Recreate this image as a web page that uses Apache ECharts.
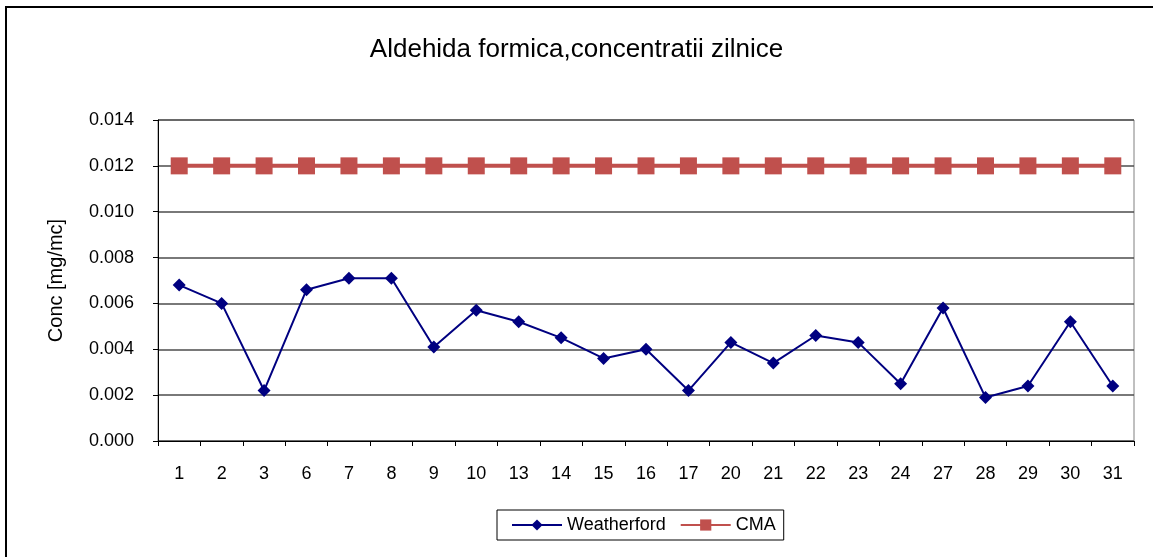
<!DOCTYPE html>
<html>
<head>
<meta charset="utf-8">
<script src="https://cdn.jsdelivr.net/npm/echarts@6/dist/echarts.min.js"></script>
<style>
  html, body { margin: 0; padding: 0; background: #fff; }
  #chart { width: 1153px; height: 557px; }
</style>
</head>
<body>
<div id="chart"></div>
<script>
const days = ['1', '2', '3', '6', '7', '8', '9', '10', '13', '14', '15', '16', '17', '20', '21', '22', '23', '24', '27', '28', '29', '30', '31']
const weatherford = [0.0068, 0.0060, 0.0022, 0.0066, 0.0071, 0.0071, 0.0041, 0.0057, 0.0052, 0.0045, 0.0036, 0.0040, 0.0022, 0.0043, 0.0034, 0.0046, 0.0043, 0.0025, 0.0058, 0.0019, 0.0024, 0.0052, 0.0024]
const cma = days.map(() => 0.012)

const chart = echarts.init(document.getElementById('chart'))
const font = 'Liberation Sans, Arial, sans-serif'

chart.setOption({
  animation: false,
  textStyle: { fontFamily: font },
  title: {
    text: 'Aldehida formica,concentratii zilnice',
    left: 'center', top: 32,
    textStyle: { fontFamily: font, fontSize: 26, fontWeight: 'normal', color: '#000' },
  },
  graphic: [
    { type: 'rect', shape: { x: 6, y: 7, width: 1160, height: 560 }, style: { fill: 'none', stroke: '#000', lineWidth: 2 } },
  ],
  legend: {
    left: 497, top: 510,
    borderColor: '#000', borderWidth: 1,
    padding: [6, 8, 6, 14],
    itemWidth: 50, itemHeight: 14, itemGap: 14,
    textStyle: { fontFamily: font, fontSize: 18, color: '#000' },
    data: ['Weatherford', 'CMA'],
  },
  grid: { left: 158, right: 19, top: 120, bottom: 116, show: true, borderColor: '#808080', borderWidth: 1 },
  xAxis: {
    type: 'category', data: days, boundaryGap: true,
    axisLine: { lineStyle: { color: '#000' } },
    axisTick: { show: true, length: 5, lineStyle: { color: '#000' } },
    axisLabel: { color: '#000', fontSize: 18, margin: 24, fontFamily: font },
  },
  yAxis: {
    type: 'value', min: 0, max: 0.014, interval: 0.002,
    name: 'Conc [mg/mc]', nameLocation: 'middle', nameGap: 92,
    nameTextStyle: { fontFamily: font, fontSize: 20, color: '#000' },
    axisLine: { show: true, lineStyle: { color: '#000' } },
    axisTick: { show: true, length: 5, lineStyle: { color: '#000' } },
    axisLabel: { color: '#000', fontSize: 18, margin: 24, fontFamily: font, formatter: v => v.toFixed(3) },
    splitLine: { lineStyle: { color: '#4d4d4d', width: 1.5 } },
  },
  series: [
    {
      name: 'Weatherford', type: 'line', data: weatherford,
      symbol: 'diamond', symbolSize: 13,
      lineStyle: { color: '#000080', width: 2 },
      itemStyle: { color: '#000080' },
      z: 3,
    },
    {
      name: 'CMA', type: 'line', data: cma,
      symbol: 'rect', symbolSize: 17,
      lineStyle: { color: '#C0504D', width: 4 },
      itemStyle: { color: '#C0504D' },
      z: 2,
    },
  ],
})
</script>
</body>
</html>
